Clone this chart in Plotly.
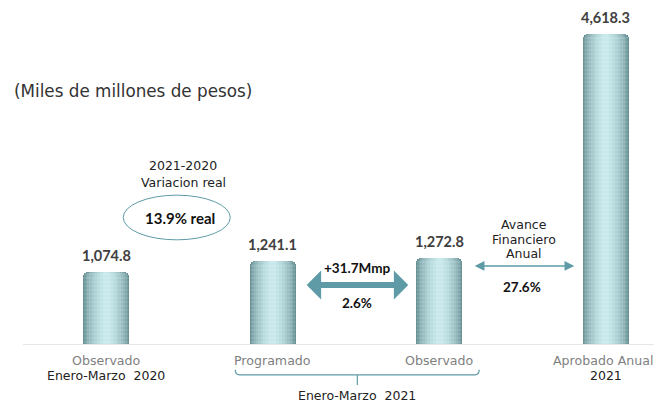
import plotly.graph_objects as go

# datos (miles de millones de pesos)
categorias = ["Observado 2020", "Programado", "Observado 2021", "Aprobado Anual"]
etiqueta_1 = ["Observado", "Programado", "Observado", "Aprobado Anual"]
etiqueta_2 = ["Enero-Marzo  2020", "", "", "2021"]
valores = [1074.8, 1241.1, 1272.8, 4618.3]
etiquetas_valor = ["1,074.8", "1,241.1", "1,272.8", "4,618.3"]

variacion_real = "13.9% real"
diferencia_mmp = "+31.7Mmp"
diferencia_pct = "2.6%"
avance_anual = "27.6%"

FONT = "DejaVu Sans"
BOLD = "Lato"
TEAL = "#5e9ba6"
x = list(range(len(categorias)))

# capas del cilindro: de la orilla oscura al centro claro
capas = [
    (0.276, "#658d92"),
    (0.264, "#739ba0"),
    (0.248, "#81a8ad"),
    (0.228, "#8eb4b8"),
    (0.204, "#9abfc3"),
    (0.176, "#a5cace"),
    (0.146, "#afd3d7"),
    (0.114, "#b9dcdf"),
    (0.080, "#c1e3e6"),
    (0.044, "#c8e8eb"),
]

fig = go.Figure()
for ancho, color in capas:
    fig.add_trace(go.Bar(
        x=x, y=valores, width=ancho,
        marker=dict(
            color=color, line_width=0, cornerradius=5,
            pattern=dict(shape="-", fgcolor="#ffffff", fgopacity=0.14, size=4, solidity=0.3, fillmode="overlay"),
        ),
        hoverinfo="skip", showlegend=False,
    ))


def txt(x, y, text, size=13, color="#222222", bold=False, xref="x", xanchor="center", xshift=0):
    return dict(x=x, y=y, xref=xref, yref="paper", text=f"<b>{text}</b>" if bold else text,
                xanchor=xanchor, yanchor="middle", showarrow=False, xshift=xshift,
                font=dict(size=size, color=color, family=BOLD if bold else FONT))


annotations = []
for xi, v, t in zip(x, valores, etiquetas_valor):
    annotations.append(dict(x=xi, y=v, text=f"<b>{t}</b>", yanchor="bottom", yshift=6,
                            showarrow=False, font=dict(size=14.5, color="#404040", family=BOLD)))
for xi, l1, l2 in zip(x, etiqueta_1, etiqueta_2):
    # la última etiqueta toca el borde derecho
    corr = -3 if xi == x[-1] else 0
    annotations.append(txt(xi, -0.05, l1, size=12.6, color="#7f7f7f", xshift=corr))
    if l2:
        annotations.append(txt(xi, -0.093, l2, size=12.5, color="#222222"))

annotations += [
    txt(-0.0174, 0.753, "(Miles de millones de pesos)", size=16.8, color="#333333",
        xref="paper", xanchor="left"),
    txt(0.4625, 0.530, "2021-2020", size=12.5),
    txt(0.4625, 0.482, "Variacion real", size=12.5),
    txt(0.444, 0.375, variacion_real, size=15, color="#111111", bold=True),
    txt(1.508, 0.226, diferencia_mmp, size=13.5, color="#111111", bold=True),
    txt(1.508, 0.122, diferencia_pct, size=13.5, color="#111111", bold=True),
    txt(2.51, 0.357, "Avance", size=12.5),
    txt(2.51, 0.3125, "Financiero", size=12.5),
    txt(2.51, 0.268, "Anual", size=12.5),
    txt(2.498, 0.170, avance_anual, size=13.5, color="#111111", bold=True),
    txt(1.508, -0.152, "Enero-Marzo  2021", size=12.5),
    # flecha gruesa Programado <-> Observado
    dict(x=1.814, y=878, ax=1.195, ay=878, axref="x", ayref="y", text="",
         showarrow=True, arrowside="end+start", arrowhead=1, arrowsize=0.8,
         arrowwidth=6, arrowcolor=TEAL, standoff=0, startstandoff=0),
    # flecha delgada Observado <-> Aprobado
    dict(x=2.811, y=1161, ax=2.204, ay=1161, axref="x", ayref="y", text="",
         showarrow=True, arrowside="end+start", arrowhead=2, arrowsize=1.3,
         arrowwidth=1.5, arrowcolor=TEAL, standoff=0, startstandoff=0),
]

shapes = [
    dict(type="circle", xref="x", yref="paper", x0=0.102, x1=0.745, y0=0.310, y1=0.443,
         line=dict(color=TEAL, width=1)),
    dict(type="path", xref="x", yref="paper",
         path="M 0.775,-0.077 Q 0.775,-0.092 0.80,-0.092 L 2.215,-0.092 Q 2.24,-0.092 2.24,-0.077 "
              "M 1.508,-0.092 L 1.508,-0.122",
         line=dict(color=TEAL, width=1.2)),
]

# la página deja 8 px de margen en el body: figura de 654x395
fig.update_layout(
    width=654, height=395,
    barmode="overlay", bargap=0,
    margin=dict(l=15, r=7, t=0, b=59),
    paper_bgcolor="white", plot_bgcolor="white",
    font=dict(family=FONT),
    xaxis=dict(range=[-0.5, 3.296], showticklabels=False, showgrid=False, zeroline=False,
               showline=True, linecolor="#e6e6e6", linewidth=1, ticks=""),
    yaxis=dict(range=[0, 5000], visible=False),
    annotations=annotations,
    shapes=shapes,
    hovermode=False,
)

fig.write_html("out.html")
